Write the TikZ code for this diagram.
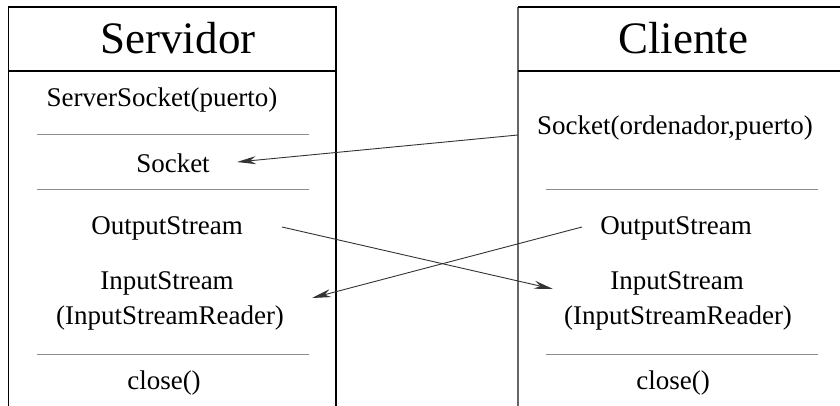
\documentclass[tikz,border=0pt]{standalone}
\usepackage{fontspec}
\setmainfont{Liberation Serif}
\usetikzlibrary{arrows.meta}
\begin{document}
\begin{tikzpicture}[x=1pt,y=-1pt,
  txt/.style={inner sep=0pt,font=\fontsize{27}{32}\selectfont,anchor=center},
  ttl/.style={inner sep=0pt,font=\fontsize{45}{50}\selectfont,anchor=center},
  sep/.style={draw=black!45,line width=1pt},
  hdr/.style={draw=black,line width=1.2pt},
  conn/.style={draw=black!80,line width=0.9pt,-{Stealth[length=19pt,width=8pt,inset=6pt]}}]
\useasboundingbox (0,0) rectangle (840,406);
\clip (0,0) rectangle (840,406);
% boxes
\draw[hdr] (8.5,420) -- (8.5,7) -- (336,7) -- (336,420);
\draw[hdr] (8.5,71) -- (336,71);
\draw[draw=black!60,line width=1.2pt] (518,420) -- (518,7);
\draw[hdr] (518,7) -- (845,7);
\draw[hdr] (518,71) -- (845,71);
% titles
\node[ttl] (srvT) at (178,38) {Servidor};
\node[ttl] (cliT) at (683,38) {Cliente};
% servidor
\node[txt] (srvSS) at (162,100) {ServerSocket(puerto)};
\draw[sep] (37,135) -- (309,135);
\node[txt] (srvSock) at (173,163) {Socket};
\draw[sep] (37,190) -- (309,190);
\node[txt] (srvOut) at (167,228) {OutputStream};
\node[txt] (srvIn) at (167,283) {InputStream};
\node[txt] (srvRd) at (170,318) {(InputStreamReader)};
\draw[sep] (37,354) -- (309,354);
\node[txt] (srvCl) at (164,383) {close()};
% cliente
\node[txt] (cliSock) at (675,128) {Socket(ordenador,puerto)};
\draw[sep] (546,190) -- (818,190);
\node[txt] (cliOut) at (676,228) {OutputStream};
\node[txt] (cliIn) at (677,283) {InputStream};
\node[txt] (cliRd) at (678,318) {(InputStreamReader)};
\draw[sep] (546,354) -- (818,354);
\node[txt] (cliCl) at (673,383) {close()};
% connector ends
\coordinate (a1s) at (518,135);
\coordinate (a1e) at (237,162);
\coordinate (a2s) at (282,227);
\coordinate (a2e) at (553,289);
\coordinate (a3s) at (582,227);
\coordinate (a3e) at (312,298);
\draw[conn] (a1s) -- (a1e);
\draw[conn] (a2s) -- (a2e);
\draw[conn] (a3s) -- (a3e);
\end{tikzpicture}
\end{document}
